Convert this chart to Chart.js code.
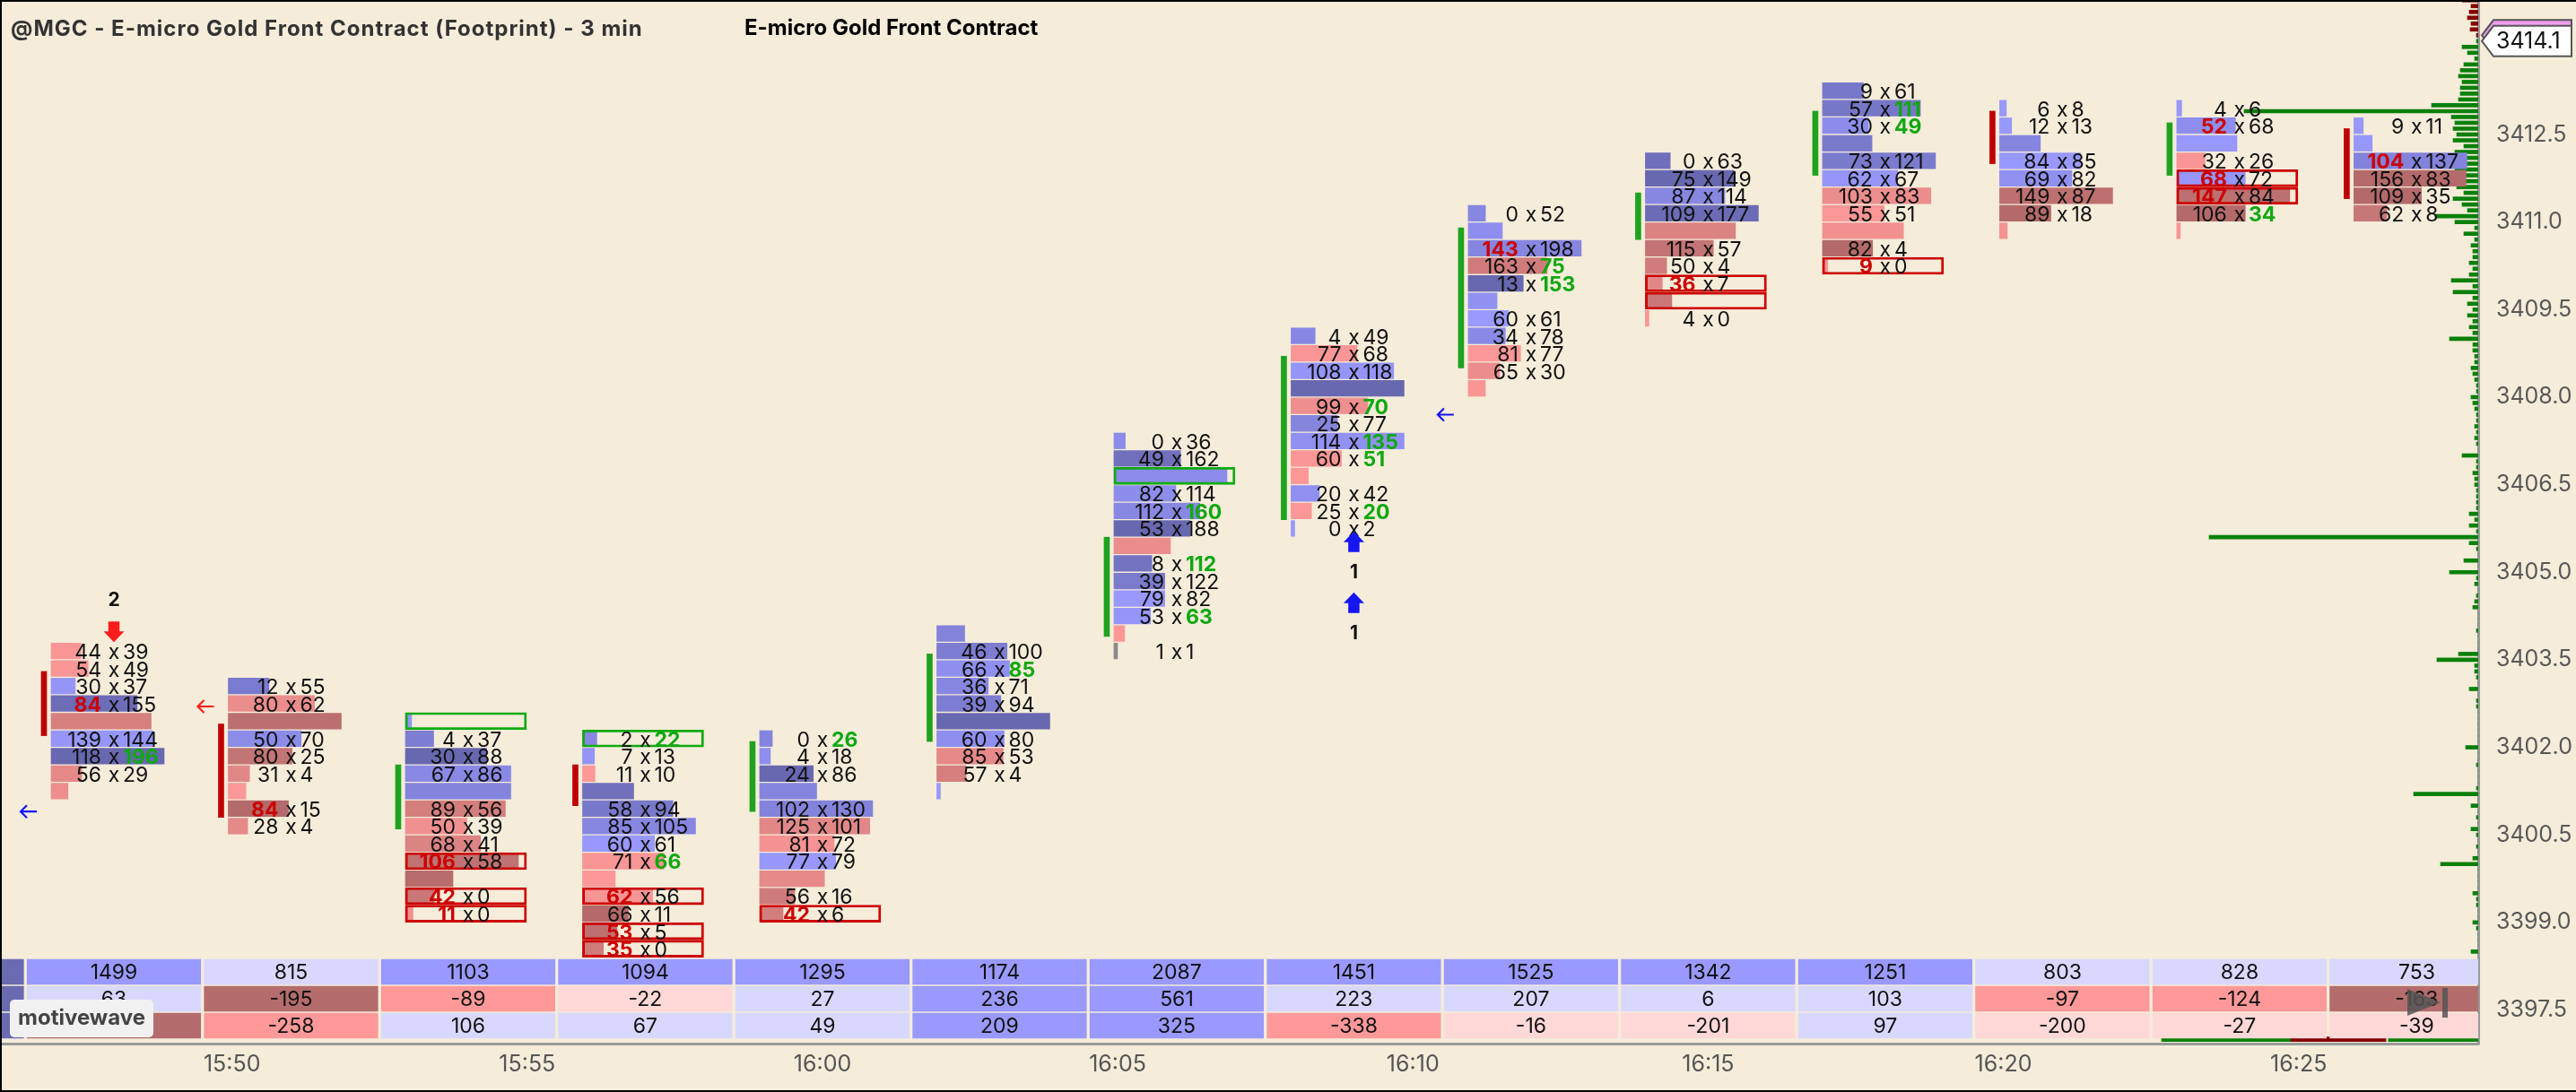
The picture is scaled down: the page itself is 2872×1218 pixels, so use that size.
<!DOCTYPE html>
<html><head><meta charset="utf-8">
<script src="https://cdn.jsdelivr.net/npm/chart.js@4.4.1/dist/chart.umd.min.js"></script>
<style>html,body{margin:0;padding:0;background:#f5ecda;overflow:hidden}canvas{display:block}</style>
</head><body>
<canvas id="c" width="2872" height="1218" style="width:2872px;height:1218px"></canvas>
<script>
// ================= DATA =================
const barTimes = ['15:48','15:51','15:54','15:57','16:00','16:03','16:06','16:09','16:12','16:15','16:18','16:21','16:24','16:27'];
// price of the lowest edge of the top footprint row (rows are 0.3 tall)
const topPrices = [3403.5,3402.9,3402.3,3402.0,3402.0,3403.8,3407.1,3408.9,3411.0,3411.9,3413.1,3412.8,3412.8,3412.5];
const bidsByBar = [
 [44,54,30,84,160,139,118,56,33],
 [12,80,124,50,80,31,16,84,28],
 [3,4,30,67,64,89,50,68,106,62,42,11],
 [2,7,11,20,58,85,60,71,28,62,66,53,35],
 [0,4,24,46,102,125,81,77,77,56,42],
 [8,46,66,36,39,70,60,85,57,2],
 [0,49,160,82,112,53,107,8,39,79,53,20,1],
 [4,77,108,62,99,25,114,60,20,20,25,0],
 [0,36,143,163,13,32,60,34,81,65,32],
 [0,75,87,109,132,115,50,36,60,4],
 [9,57,30,18,73,62,103,55,76,82,9],
 [6,12,28,84,69,149,89,13],
 [4,52,61,32,68,147,106,6],
 [9,18,104,156,109,62]
];
const asksByBar = [
 [39,49,37,155,118,144,196,29,14],
 [55,62,62,70,25,4,13,15,4],
 [6,37,88,86,89,56,39,41,58,7,0,0],
 [22,13,10,66,94,105,61,66,27,56,11,5,0],
 [26,18,86,71,130,101,72,79,56,16,6],
 [50,100,85,71,94,165,80,53,4,3],
 [36,162,198,114,160,188,72,112,122,82,63,14,1],
 [49,68,118,187,70,77,135,51,18,42,20,2],
 [52,67,198,75,153,55,61,78,77,30,20],
 [63,149,114,177,96,57,4,7,7,0],
 [61,111,49,67,121,67,83,51,63,4,0],
 [8,13,57,85,82,87,18,3],
 [6,68,62,26,72,84,34,0],
 [11,21,137,83,35,8]
];
// rows whose numbers are not printed
const hiddenRows   = [[4,8],[2,6],[0,4,9],[3,8],[3,8],[0,5,9],[2,6,11],[3,8],[1,5,10],[4,8],[3,8],[2,7],[2,7],[1]];
const bidHighlights= [[3],[7],[8,10,11],[9,11,12],[10],[],[],[],[2],[7],[10],[],[1,4,5],[2]];
const askHighlights= [[6],[],[],[0,7],[0],[2],[4,7,10],[4,6,7,10],[3,4],[],[1,2],[],[6],[]];
const redBoxes     = [[],[],[8,10,11],[9,11,12],[10],[],[],[],[],[7,8],[10],[],[4,5],[]];
const greenBoxes   = [[],[],[0],[0],[],[],[2],[],[],[],[],[],[],[]];
const openPrices  = [3403.3,3402.4,3400.6,3401.7,3400.9,3402.1,3403.9,3405.9,3408.5,3410.7,3411.8,3412.9,3411.8,3412.6];
const closePrices = [3402.2,3400.8,3401.7,3401.0,3402.1,3403.6,3405.6,3408.7,3410.9,3411.5,3412.9,3412.0,3412.7,3411.4];

// bar statistics table (first column is the partly visible 15:45 bar, values estimated)
const tableTimes  = ['15:45',...barTimes];
const totalVolume = [2600,1499,815,1103,1094,1295,1174,2087,1451,1525,1342,1251,803,828,753];
const barDelta    = [950,63,-195,-89,-22,27,236,561,223,207,6,103,-97,-124,-163];
const deltaChange = [700,-887,-258,106,67,49,209,325,-338,-16,-201,97,-200,-27,-39];

// signals
const signalBars   = [0,7,7];
const signalDirs   = [-1,1,1];
const signalPrices = [3403.8,3405.7,3405.7];
const signalLabels = ['2','1','1'];
const divBars   = [0,1,8];
const divPrices = [3400.9,3402.7,3407.7];
const divDirs   = [1,-1,1];

// session volume profile (0.1 ticks from profileTop downward)
const lastPrice = 3414.1;
const askPrice  = 3414.2;
const profileTop = 3414.8;
const profileVolumes = [
 18,8,10,12,8,9,2,2,18,12,
 4,16,20,22,18,20,20,22,52,261,
 30,26,28,24,28,16,26,16,22,26,
 26,16,24,16,28,18,12,48,26,4,
 16,4,8,6,6,10,6,10,30,6,
 28,6,12,6,12,6,10,6,32,6,
 6,4,4,8,6,4,2,2,8,6,
 4,2,2,4,2,4,2,0,18,2,
 2,6,4,4,2,2,2,2,10,4,
 10,2,300,10,2,0,16,0,32,2,
 4,0,2,4,6,0,0,0,2,0,
 0,0,22,46,4,4,2,0,10,0,
 2,2,0,0,0,0,0,0,14,0,
 0,2,0,0,0,2,72,0,8,0,
 2,0,8,2,0,2,0,6,42,0,
 0,0,0,6,2,2,0,0,6,2,
 0,0,0,8
];
// level segments at the bottom (minutes after 15:00)
const levelPrices = [3397.0,3397.0,3397.0];
const levelFrom   = [82.68,84.87,86.52];
const levelTo     = [84.87,86.48,88.1];
const levelUp     = [true,false,true];

const priceTicks = [3397.5,3399.0,3400.5,3402.0,3403.5,3405.0,3406.5,3408.0,3409.5,3411.0,3412.5];
const timeTicks  = ['15:50','15:55','16:00','16:05','16:10','16:15','16:20','16:25'];

// ================= LAYOUT / STYLE =================
const W = 2872, H = 1218;
const PLOT_LEFT = 1, PLOT_TOP = 1, PLOT_RIGHT = 2763, PLOT_BOTTOM = 1164;
const PLOT_W = PLOT_RIGHT - PLOT_LEFT, PLOT_H = PLOT_BOTTOM - PLOT_TOP;
const PX_PER_MIN = 65.83, PX_PER_PRICE = 65.1;
const ROW = 0.3, TICK = 0.1;
const toMin = s => { const [h,m] = s.split(':').map(Number); return (h-15)*60 + m; };
const X_MIN = toMin(barTimes[0]) - (127 - PLOT_LEFT)/PX_PER_MIN;
const X_MAX = X_MIN + PLOT_W/PX_PER_MIN;
const Y_MAX = 3412.5 + (150 - PLOT_TOP)/PX_PER_PRICE;
const Y_MIN = Y_MAX - PLOT_H/PX_PER_PRICE;
const BAR_START_PX = 70, MAX_BAR_PX = 126, MIN_BAR_PX = 4, BOX_PX = 135, BODY_OFF_PX = 78, DIV_OFF_PX = 95;
const PROFILE_PX_PER_VOL = 1;
const CELL_HALF = 1.47;
const TABLE_ROW_OFFSETS_PX = [80,50,20];           // row centres above the plot bottom
const TABLE_ROW_Y = TABLE_ROW_OFFSETS_PX.map(px => Y_MIN + px/PX_PER_PRICE);
const FONT = 'Inter';
const FP_FONT = '23px ';

const mix = (a,b,t) => Math.round(a+(b-a)*t);
function fpColor(b,a,maxD){
  const d = a-b;
  if (d===0) return '#8a8a8a';
  const t = Math.min(1, Math.abs(d)/maxD);
  if (d>0) return `rgb(${mix(153,104,t)},${mix(153,104,t)},${mix(255,176,t)})`;
  return `rgb(${mix(255,180,t)},${mix(153,106,t)},${mix(153,106,t)})`;
}
const C_LB='#d8d8ff', C_B='#9999ff', C_DB='#6a6ab2', C_LR='#ffd8d8', C_R='#ff9999', C_DR='#b46c6c';
const volColor = v => v>=2500 ? C_DB : (v>=1000 ? C_B : C_LB);
function deltaColor(d,v){ const p=d/v; if(d>=0) return p>=0.35?C_DB:(p>=0.19?C_B:C_LB); return p<=-0.2?C_DR:(p<=-0.05?C_R:C_LR); }
function changeColor(c){ if(c>=0) return c>=500?C_DB:(c>=200?C_B:C_LB); return c>-205?C_LR:(c>-500?C_R:C_DR); }

const rowMid = (k,r) => topPrices[k] - ROW*r + ROW/2;

// ================= DATASETS =================
const fpData=[], fpColors=[], boxData=[], boxColors=[], bodyData=[], bodyColors=[];
barTimes.forEach((ts,k)=>{
  const t = toMin(ts);
  const bids = bidsByBar[k], asks = asksByBar[k];
  const totals = bids.map((b,i)=>b+asks[i]);
  const maxTot = Math.max(...totals);
  const maxD = Math.max(...bids.map((b,i)=>Math.abs(asks[i]-b)));
  const x0 = t - BAR_START_PX/PX_PER_MIN;
  bids.forEach((b,r)=>{
    const wpx = Math.max(MIN_BAR_PX, totals[r]*MAX_BAR_PX/maxTot);
    fpData.push({x:[x0, x0 + wpx/PX_PER_MIN], y: rowMid(k,r)});
    fpColors.push(fpColor(b, asks[r], maxD));
  });
  redBoxes[k].forEach(r=>{ boxData.push({x:[x0, x0+BOX_PX/PX_PER_MIN], y: rowMid(k,r)}); boxColors.push('#cc0000'); });
  greenBoxes[k].forEach(r=>{ boxData.push({x:[x0, x0+BOX_PX/PX_PER_MIN], y: rowMid(k,r)}); boxColors.push('#11aa11'); });
  bodyData.push({x: t - BODY_OFF_PX/PX_PER_MIN, y:[openPrices[k], closePrices[k]]});
  bodyColors.push(closePrices[k] >= openPrices[k] ? '#1fa31f' : '#bf0000');
});

const profData = profileVolumes.map((v,i)=>({y: +(profileTop - i*TICK).toFixed(1), x:[X_MAX - v*PROFILE_PX_PER_VOL/PX_PER_MIN, X_MAX]}));
const profColors = profData.map(d => d.y > lastPrice ? '#840000' : '#0a800a');

const levelData = levelPrices.map((p,i)=>({y:p, x:[levelFrom[i], levelTo[i]]}));
const levelColors = levelUp.map(u => u ? '#0a800a' : '#840000');

const tableData=[], tableColors=[];
tableTimes.forEach((ts,i)=>{
  const t = toMin(ts);
  [volColor(totalVolume[i]), deltaColor(barDelta[i], totalVolume[i]), changeColor(deltaChange[i])].forEach((c,r)=>{
    tableData.push({x:[t-CELL_HALF, t+CELL_HALF], y: TABLE_ROW_Y[r]});
    tableColors.push(c);
  });
});

const hbar = {type:'bar', indexAxis:'y', grouped:false, borderWidth:0, borderSkipped:false, xAxisID:'x', yAxisID:'y'};

// ================= PLUGINS =================
const bg = { id:'bg', beforeDraw(ch){ const c=ch.ctx; c.save(); c.fillStyle='#f5ecda'; c.fillRect(0,0,W,H); c.restore(); } };

function blockArrow(ctx, cx, tipY, dir, color){
  const hh=12, sh=11, hw=23, sw=12.5;
  const s = dir>0 ? 1 : -1;
  ctx.fillStyle=color; ctx.beginPath();
  ctx.moveTo(cx, tipY);
  ctx.lineTo(cx+hw/2, tipY+s*hh); ctx.lineTo(cx+sw/2, tipY+s*hh);
  ctx.lineTo(cx+sw/2, tipY+s*(hh+sh)); ctx.lineTo(cx-sw/2, tipY+s*(hh+sh));
  ctx.lineTo(cx-sw/2, tipY+s*hh); ctx.lineTo(cx-hw/2, tipY+s*hh);
  ctx.closePath(); ctx.fill();
}
function leftArrow(ctx, cx, cy, color){
  ctx.strokeStyle=color; ctx.lineWidth=2.2; ctx.beginPath();
  ctx.moveTo(cx+9, cy); ctx.lineTo(cx-9, cy);
  ctx.moveTo(cx-2, cy-7); ctx.lineTo(cx-9, cy); ctx.lineTo(cx-2, cy+7);
  ctx.stroke();
}
function priceTag(ctx, left, right, cy, fill){
  ctx.beginPath();
  ctx.moveTo(left+4, cy); ctx.lineTo(left+17, cy-17); ctx.lineTo(right, cy-17);
  ctx.lineTo(right, cy+17); ctx.lineTo(left+17, cy+17); ctx.closePath();
  ctx.fillStyle=fill; ctx.fill(); ctx.lineWidth=2; ctx.strokeStyle='#555'; ctx.stroke();
}

const overlay = {
  id:'overlay',
  afterDatasetsDraw(ch){
    const {ctx, scales:{x, y}} = ch;
    ctx.save();
    ctx.textBaseline='middle';
    // footprint numbers
    barTimes.forEach((ts,k)=>{
      const cx = x.getPixelForValue(toMin(ts));
      bidsByBar[k].forEach((b,r)=>{
        if (hiddenRows[k].includes(r)) return;
        const a = asksByBar[k][r];
        const py = y.getPixelForValue(rowMid(k,r)) + 2;
        const bh = bidHighlights[k].includes(r), ah = askHighlights[k].includes(r);
        ctx.textAlign='right'; ctx.font=(bh?'bold ':'')+FP_FONT+FONT; ctx.fillStyle=bh?'#cc0000':'#111';
        ctx.fillText(String(b), cx-14, py);
        ctx.textAlign='center'; ctx.font=FP_FONT+FONT; ctx.fillStyle='#111';
        ctx.fillText('x', cx, py);
        ctx.textAlign='left'; ctx.font=(ah?'bold ':'')+FP_FONT+FONT; ctx.fillStyle=ah?'#10a810':'#111';
        ctx.fillText(String(a), cx+10, py);
      });
    });
    // table numbers
    ctx.textAlign='center'; ctx.font='23px '+FONT; ctx.fillStyle='#111';
    tableTimes.forEach((ts,i)=>{
      const cx = x.getPixelForValue(toMin(ts));
      [totalVolume[i], barDelta[i], deltaChange[i]].forEach((v,r)=>{
        ctx.fillText(String(v), cx, y.getPixelForValue(TABLE_ROW_Y[r]) + 1);
      });
    });
    // divergence arrows
    divBars.forEach((k,i)=>{
      const cx = x.getPixelForValue(toMin(barTimes[k])) - DIV_OFF_PX;
      leftArrow(ctx, cx, y.getPixelForValue(divPrices[i]), divDirs[i]>0 ? '#1414ff' : '#ff1e1e');
    });
    // signal arrows
    const seen = {};
    signalBars.forEach((k,i)=>{
      const key = k+'_'+signalDirs[i];
      const n = seen[key] || 0; seen[key] = n+1;
      const cx = x.getPixelForValue(toMin(barTimes[k]));
      const base = y.getPixelForValue(signalPrices[i]);
      ctx.font='bold 21px '+FONT; ctx.textAlign='center';
      if (signalDirs[i]>0){
        const tip = base + n*68;
        blockArrow(ctx, cx, tip, 1, '#1616f5');
        ctx.fillStyle='#111'; ctx.fillText(signalLabels[i], cx, tip+46);
      } else {
        const tip = base - n*68;
        blockArrow(ctx, cx, tip, -1, '#ff1c1c');
        ctx.fillStyle='#111'; ctx.fillText(signalLabels[i], cx, tip-47);
      }
    });
    ctx.restore();
  },
  afterDraw(ch){
    const {ctx, chartArea:ca, scales:{y}} = ch;
    ctx.save();
    // play-to-end icon over table
    const iy = y.getPixelForValue(TABLE_ROW_Y[1]) + 4;
    ctx.fillStyle='rgba(85,85,85,0.85)';
    ctx.beginPath(); ctx.moveTo(ca.right-79, iy-15); ctx.lineTo(ca.right-42, iy); ctx.lineTo(ca.right-79, iy+15); ctx.closePath(); ctx.fill();
    ctx.fillRect(ca.right-40, iy-16, 6, 33);
    // logo
    ctx.fillStyle='#f1f1f1'; ctx.beginPath(); ctx.roundRect(ca.left+10, ca.bottom-49, 160, 42, 5); ctx.fill();
    ctx.fillStyle='#444'; ctx.font='bold 24px '+FONT; ctx.textAlign='center'; ctx.textBaseline='middle';
    ctx.fillText('motivewave', ca.left+90, ca.bottom-28);
    // price tags
    priceTag(ctx, ca.right, W-5, y.getPixelForValue(askPrice), '#ef9cef');
    priceTag(ctx, ca.right, W-5, y.getPixelForValue(lastPrice), '#ffffff');
    ctx.fillStyle='#111'; ctx.font='25px '+FONT; ctx.textAlign='left';
    ctx.fillText(lastPrice.toFixed(1), ca.right+20, y.getPixelForValue(lastPrice)+1);
    // titles
    ctx.font='bold 24px '+FONT; ctx.fillStyle='#333'; ctx.textAlign='left';
    ctx.letterSpacing='1px';
    ctx.fillText('@MGC - E-micro Gold Front Contract (Footprint) - 3 min', 12, 33);
    ctx.letterSpacing='0px';
    ctx.fillStyle='#000';
    ctx.fillText('E-micro Gold Front Contract', 830, 32);
    // frame
    ctx.fillStyle='#000';
    ctx.fillRect(0,0,W,2); ctx.fillRect(0,0,2,H); ctx.fillRect(0,H-2,W,2);
    ctx.restore();
  }
};

// ================= CHART =================
new Chart(document.getElementById('c').getContext('2d'), {
  type:'bar',
  data:{ datasets:[
    {...hbar, label:'profile', data:profData, backgroundColor:profColors, barThickness:4, order:10},
    {...hbar, label:'levels', data:levelData, backgroundColor:levelColors, barThickness:5, order:9},
    {...hbar, label:'footprint', data:fpData, backgroundColor:fpColors, barThickness:17.6, order:8},
    {...hbar, label:'boxes', data:boxData, backgroundColor:'rgba(0,0,0,0)', borderColor:boxColors, borderWidth:2.2, barThickness:19, order:7},
    {type:'bar', indexAxis:'x', grouped:false, borderWidth:0, label:'body', data:bodyData, backgroundColor:bodyColors, xAxisID:'x', yAxisID:'y', barThickness:6, order:6},
    {...hbar, label:'table', data:tableData, backgroundColor:tableColors, barThickness:28, order:5}
  ]},
  options:{
    responsive:false, animation:false, devicePixelRatio:1,
    layout:{padding:{left:PLOT_LEFT, top:PLOT_TOP, right:0, bottom:0}},
    plugins:{legend:{display:false}, tooltip:{enabled:false}},
    scales:{
      x:{type:'linear', position:'bottom', min:X_MIN, max:X_MAX, offset:false,
         grid:{display:false, drawTicks:false, offset:false}, border:{display:true, color:'#9a9a9a', width:3},
         ticks:{color:'#555', font:{family:FONT, size:25}, padding:8, maxRotation:0, autoSkip:false,
                callback:v=>{ const h=15+Math.floor(v/60), m=Math.round(v%60); return h+':'+String(m).padStart(2,'0'); }},
         afterBuildTicks:s=>{ s.ticks = timeTicks.map(t=>({value:toMin(t)})); },
         afterFit:s=>{ s.height = H - PLOT_BOTTOM; s.paddingLeft=0; s.paddingRight=0; }},
      y:{type:'linear', position:'right', min:Y_MIN, max:Y_MAX, offset:false,
         grid:{display:false, drawTicks:false, offset:false}, border:{display:true, color:'#9a9a9a', width:3},
         ticks:{color:'#585858', font:{family:FONT, size:25}, padding:20, callback:v=>Number(v).toFixed(1)},
         afterBuildTicks:s=>{ s.ticks = priceTicks.map(v=>({value:v})); },
         afterFit:s=>{ s.width = W - PLOT_RIGHT; s.paddingTop=0; s.paddingBottom=0; }}
    }
  },
  plugins:[bg, overlay]
});
</script>
</body></html>
